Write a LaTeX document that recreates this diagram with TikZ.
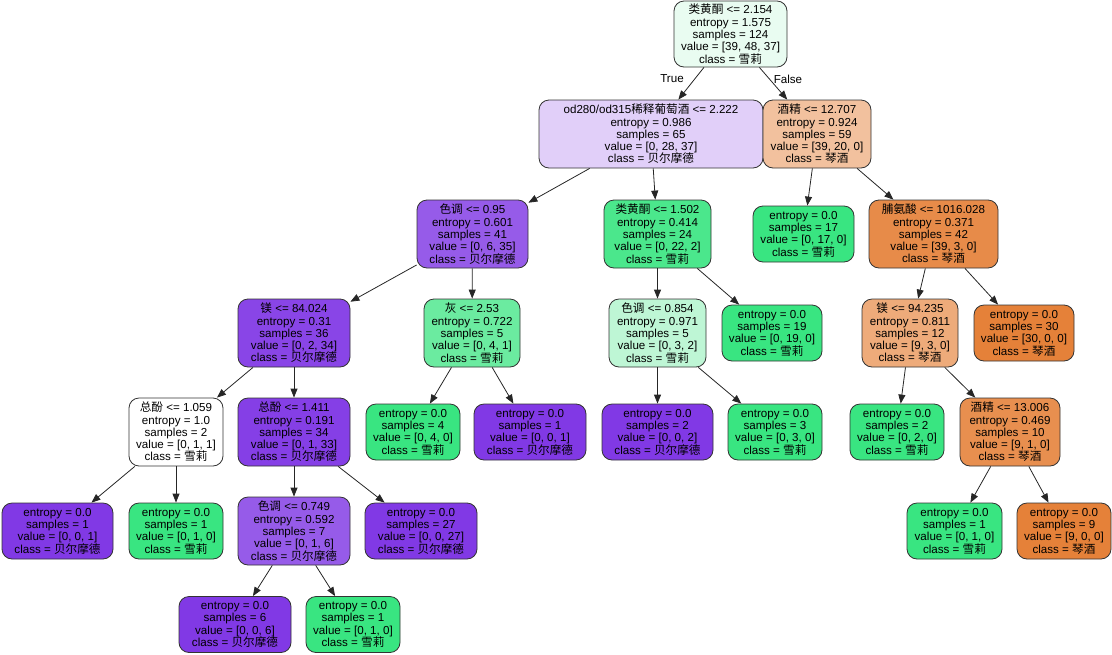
\documentclass[tikz,border=0pt]{standalone}
\usepackage{fontspec}
\setmainfont{Liberation Sans}
\newfontfamily\zhfont{Noto Sans CJK SC}
\newcommand{\cn}[1]{{\zhfont #1}}
\usetikzlibrary{arrows.meta}
\definecolor{qin}{HTML}{E58139}
\definecolor{xue}{HTML}{39E581}
\definecolor{bei}{HTML}{8139E5}

\begin{document}
\begin{tikzpicture}[x=1pt,y=-1pt]
  \tikzstyle{every node}+=[inner sep=0pt, font=\fontsize{11.6}{12.3}\selectfont]
  \tikzstyle{decide}=[draw=black!80, line width=0.8pt, rounded corners=10pt, align=center, minimum height=68]
  \tikzstyle{leafbox}=[decide, minimum height=56]
  \tikzstyle{arr}=[draw=black!85, line width=0.8pt, -{Triangle[length=9pt,width=7pt]}]
  \useasboundingbox (0,0) rectangle (1112,654);
  \node [decide, fill=xue!11, minimum width=113, minimum height=66] (n0) at (730.5,34) {\cn{类黄酮} <= 2.154\\entropy = 1.575\\samples = 124\\value = [39, 48, 37]\\class = \cn{雪莉}};
  \node [decide, fill=bei!24, minimum width=224] (n1) at (651,134) {od280/od315\cn{稀释葡萄酒} <= 2.222\\entropy = 0.986\\samples = 65\\value = [0, 28, 37]\\class = \cn{贝尔摩德}};
  \node [decide, fill=qin!49, minimum width=108] (n2) at (817,134) {\cn{酒精} <= 12.707\\entropy = 0.924\\samples = 59\\value = [39, 20, 0]\\class = \cn{琴酒}};
  \node [decide, fill=bei!83, minimum width=111] (n3) at (472.5,234) {\cn{色调} <= 0.95\\entropy = 0.601\\samples = 41\\value = [0, 6, 35]\\class = \cn{贝尔摩德}};
  \node [decide, fill=xue!91, minimum width=107] (n4) at (657.5,234) {\cn{类黄酮} <= 1.502\\entropy = 0.414\\samples = 24\\value = [0, 22, 2]\\class = \cn{雪莉}};
  \node [leafbox, fill=xue, minimum width=101] (n5) at (803.5,234) {entropy = 0.0\\samples = 17\\value = [0, 17, 0]\\class = \cn{雪莉}};
  \node [decide, fill=qin!92, minimum width=129] (n6) at (933.5,234) {\cn{脯氨酸} <= 1016.028\\entropy = 0.371\\samples = 42\\value = [39, 3, 0]\\class = \cn{琴酒}};
  \node [decide, fill=bei!94, minimum width=112] (n7) at (294,333) {\cn{镁} <= 84.024\\entropy = 0.31\\samples = 36\\value = [0, 2, 34]\\class = \cn{贝尔摩德}};
  \node [decide, fill=xue!75, minimum width=96] (n8) at (472,333) {\cn{灰} <= 2.53\\entropy = 0.722\\samples = 5\\value = [0, 4, 1]\\class = \cn{雪莉}};
  \node [decide, fill=xue!33, minimum width=97] (n9) at (657.5,333) {\cn{色调} <= 0.854\\entropy = 0.971\\samples = 5\\value = [0, 3, 2]\\class = \cn{雪莉}};
  \node [leafbox, fill=xue, minimum width=100] (n10) at (772,333) {entropy = 0.0\\samples = 19\\value = [0, 19, 0]\\class = \cn{雪莉}};
  \node [decide, fill=qin!67, minimum width=96] (n11) at (910,333) {\cn{镁} <= 94.235\\entropy = 0.811\\samples = 12\\value = [9, 3, 0]\\class = \cn{琴酒}};
  \node [leafbox, fill=qin, minimum width=100] (n12) at (1024,333) {entropy = 0.0\\samples = 30\\value = [30, 0, 0]\\class = \cn{琴酒}};
  \node [decide, fill=white, minimum width=94] (n13) at (176,432) {\cn{总酚} <= 1.059\\entropy = 1.0\\samples = 2\\value = [0, 1, 1]\\class = \cn{雪莉}};
  \node [decide, fill=bei!97, minimum width=112] (n14) at (294,432) {\cn{总酚} <= 1.411\\entropy = 0.191\\samples = 34\\value = [0, 1, 33]\\class = \cn{贝尔摩德}};
  \node [leafbox, fill=xue, minimum width=94] (n15) at (413,432) {entropy = 0.0\\samples = 4\\value = [0, 4, 0]\\class = \cn{雪莉}};
  \node [leafbox, fill=bei, minimum width=112] (n16) at (530,432) {entropy = 0.0\\samples = 1\\value = [0, 0, 1]\\class = \cn{贝尔摩德}};
  \node [leafbox, fill=bei, minimum width=111] (n17) at (657.5,432) {entropy = 0.0\\samples = 2\\value = [0, 0, 2]\\class = \cn{贝尔摩德}};
  \node [leafbox, fill=xue, minimum width=94] (n18) at (775,432) {entropy = 0.0\\samples = 3\\value = [0, 3, 0]\\class = \cn{雪莉}};
  \node [leafbox, fill=xue, minimum width=94] (n19) at (897,432) {entropy = 0.0\\samples = 2\\value = [0, 2, 0]\\class = \cn{雪莉}};
  \node [decide, fill=qin!89, minimum width=100] (n20) at (1010,432) {\cn{酒精} <= 13.006\\entropy = 0.469\\samples = 10\\value = [9, 1, 0]\\class = \cn{琴酒}};
  \node [leafbox, fill=bei, minimum width=111] (n21) at (57.5,531) {entropy = 0.0\\samples = 1\\value = [0, 0, 1]\\class = \cn{贝尔摩德}};
  \node [leafbox, fill=xue, minimum width=94] (n22) at (176,531) {entropy = 0.0\\samples = 1\\value = [0, 1, 0]\\class = \cn{雪莉}};
  \node [decide, fill=bei!83, minimum width=112] (n23) at (294,531) {\cn{色调} <= 0.749\\entropy = 0.592\\samples = 7\\value = [0, 1, 6]\\class = \cn{贝尔摩德}};
  \node [leafbox, fill=bei, minimum width=112] (n24) at (421,531) {entropy = 0.0\\samples = 27\\value = [0, 0, 27]\\class = \cn{贝尔摩德}};
  \node [leafbox, fill=xue, minimum width=95] (n25) at (954.5,531) {entropy = 0.0\\samples = 1\\value = [0, 1, 0]\\class = \cn{雪莉}};
  \node [leafbox, fill=qin, minimum width=94] (n26) at (1064,531) {entropy = 0.0\\samples = 9\\value = [9, 0, 0]\\class = \cn{琴酒}};
  \node [leafbox, fill=bei, minimum width=112] (n27) at (235,624.5) {entropy = 0.0\\samples = 6\\value = [0, 0, 6]\\class = \cn{贝尔摩德}};
  \node [leafbox, fill=xue, minimum width=94] (n28) at (353,624.5) {entropy = 0.0\\samples = 1\\value = [0, 1, 0]\\class = \cn{雪莉}};
  \node (lblT) at (672,79) {True};
  \node (lblF) at (788,79) {False};
  \draw [arr] (n0) -- (n1);
  \draw [arr] (n0) -- (n2);
  \draw [arr] (n1) -- (n3);
  \draw [arr] (n1) -- (n4);
  \draw [arr] (n2) -- (n5);
  \draw [arr] (n2) -- (n6);
  \draw [arr] (n3) -- (n7);
  \draw [arr] (n3) -- (n8);
  \draw [arr] (n4) -- (n9);
  \draw [arr] (n4) -- (n10);
  \draw [arr] (n6) -- (n11);
  \draw [arr] (n6) -- (n12);
  \draw [arr] (n7) -- (n13);
  \draw [arr] (n7) -- (n14);
  \draw [arr] (n8) -- (n15);
  \draw [arr] (n8) -- (n16);
  \draw [arr] (n9) -- (n17);
  \draw [arr] (n9) -- (n18);
  \draw [arr] (n11) -- (n19);
  \draw [arr] (n11) -- (n20);
  \draw [arr] (n13) -- (n21);
  \draw [arr] (n13) -- (n22);
  \draw [arr] (n14) -- (n23);
  \draw [arr] (n14) -- (n24);
  \draw [arr] (n20) -- (n25);
  \draw [arr] (n20) -- (n26);
  \draw [arr] (n23) -- (n27);
  \draw [arr] (n23) -- (n28);
\end{tikzpicture}
\end{document}
